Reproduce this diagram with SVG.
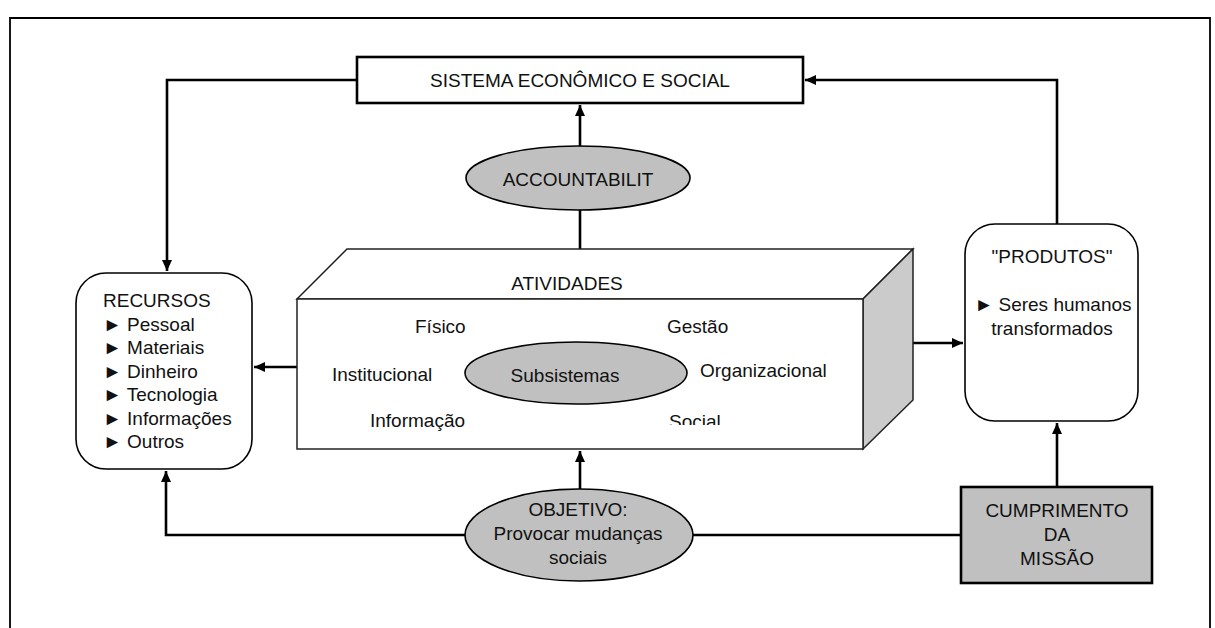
<svg xmlns="http://www.w3.org/2000/svg" width="1215" height="628" viewBox="0 0 1215 628">
<style>
text{font-family:"Liberation Sans",Arial,sans-serif;font-size:19px;fill:#111}
.c{text-anchor:middle}
.conn{fill:none;stroke:#000;stroke-width:2.6}
.gray{fill:#c0c0c0;stroke:#000;stroke-width:1.6}
.box{fill:#fff;stroke:#000;stroke-width:1.6}
.cube{fill:#fff;stroke:#222;stroke-width:1.5;stroke-linejoin:miter}
</style>
<defs>
<marker id="ah" markerUnits="userSpaceOnUse" markerWidth="12" markerHeight="10" refX="11" refY="5" orient="auto">
<path d="M0,0 L11,5 L0,10 z" fill="#000"/>
</marker>
<clipPath id="clipSocial"><rect x="600" y="380" width="200" height="45"/></clipPath>
</defs>
<path d="M10,628 V18 H1210 V628" fill="none" stroke="#000" stroke-width="1.8"/>
<g id="connectors">
<path class="conn" d="M357,80 H167 V271" marker-end="url(#ah)" stroke="#333"/>
<path class="conn" d="M1057,224 V80 H805" marker-end="url(#ah)"/>
<path class="conn" d="M580,146 V105" marker-end="url(#ah)"/>
<path class="conn" d="M580,210 V249"/>
<path class="conn" d="M297,367 H254" marker-end="url(#ah)"/>
<path class="conn" d="M913,343 H963" marker-end="url(#ah)"/>
<path class="conn" d="M580,489 V451" marker-end="url(#ah)"/>
<path class="conn" d="M465,535 H166 V471" marker-end="url(#ah)"/>
<path class="conn" d="M693,535 H961"/>
<path class="conn" d="M1057,487 V423" marker-end="url(#ah)"/>
</g>
<g id="sistema">
<rect x="357" y="57" width="446" height="46" fill="#fff" stroke="#000" stroke-width="2.6"/>
<text class="c" x="580" y="87">SISTEMA ECONÔMICO E SOCIAL</text>
</g>
<g id="accountability">
<ellipse class="gray" cx="578" cy="178" rx="112" ry="32"/>
<text class="c" x="578" y="186">ACCOUNTABILIT</text>
</g>
<g id="recursos">
<rect class="box" x="76" y="273" width="176" height="196" rx="30" ry="30"/>
<text x="103" y="307">RECURSOS</text>
<text x="103" y="330.5">► Pessoal</text>
<text x="103" y="354">► Materiais</text>
<text x="103" y="377.5">► Dinheiro</text>
<text x="103" y="401">► Tecnologia</text>
<text x="103" y="424.5">► Informações</text>
<text x="103" y="448">► Outros</text>
</g>
<g id="atividades">
<polygon class="cube" points="297,299 347,249 913,249 863,299"/>
<polygon class="cube" points="863,299 913,249 913,400 863,449" style="fill:#cbcbcb"/>
<rect class="cube" x="297" y="299" width="566" height="150"/>
<text class="c" x="567" y="290">ATIVIDADES</text>
<text x="415" y="333">Físico</text>
<text x="667" y="333">Gestão</text>
<text x="332" y="381">Institucional</text>
<text x="700" y="377">Organizacional</text>
<text x="370" y="427">Informação</text>
<text x="669" y="428" clip-path="url(#clipSocial)">Social</text>
<ellipse class="gray" cx="576" cy="373" rx="111" ry="31"/>
<text class="c" x="565" y="382">Subsistemas</text>
</g>
<g id="produtos">
<rect class="box" x="965" y="224" width="173" height="197" rx="30" ry="30"/>
<text class="c" x="1052" y="263">"PRODUTOS"</text>
<text class="c" x="1053" y="311">► Seres humanos</text>
<text class="c" x="1052" y="335">transformados</text>
</g>
<g id="objetivo">
<ellipse class="gray" cx="579" cy="535" rx="114" ry="46"/>
<text class="c" x="578" y="516">OBJETIVO:</text>
<text class="c" x="578" y="540">Provocar mudanças</text>
<text class="c" x="578" y="564">sociais</text>
</g>
<g id="cumprimento">
<rect x="961" y="487" width="191" height="96" fill="#c0c0c0" stroke="#000" stroke-width="2.6"/>
<text class="c" x="1057" y="517">CUMPRIMENTO</text>
<text class="c" x="1057" y="541">DA</text>
<text class="c" x="1057" y="565">MISSÃO</text>
</g>
</svg>
